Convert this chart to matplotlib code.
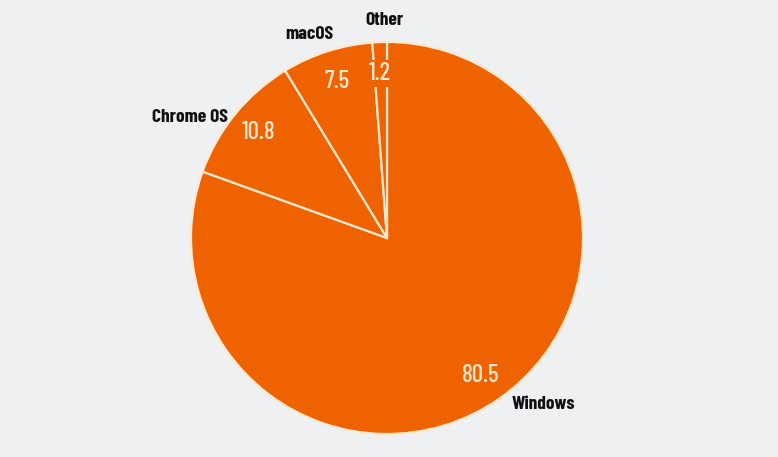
import numpy as np
import matplotlib.pyplot as plt

labels = ['Windows', 'Chrome OS', 'macOS', 'Other']
shares = [80.5, 10.8, 7.5, 1.2]
value_text = ['80.5', '10.8', '7.5', '1.2']

bg = '#eff0f2'
orange = '#ee6200'
cream = '#fde8cf'
fam = ['Barlow Condensed', 'DejaVu Sans']

W, H = 778, 457
cx, cy, r = 387, 238, 196  # pie centre / radius in pixels

fig = plt.figure(figsize=(W / 100, H / 100), dpi=100, facecolor=bg)
ax = fig.add_axes([0, 0, 1, 1])
ax.set_facecolor(bg)

ax.pie(shares, colors=[orange] * len(shares), startangle=90, counterclock=False,
       wedgeprops=dict(edgecolor=cream, linewidth=1.6))
ax.set_xlim(-cx / r, (W - cx) / r)
ax.set_ylim(-(H - cy) / r, cy / r)
ax.axis('off')

# label / value positions (fraction of radius)
lab_pos = [(0.796, -0.847), (-1.005, 0.617), (-0.398, 1.036), (-0.015, 1.112)]
val_pos = [(0.480, -0.699), (-0.653, 0.536), (-0.255, 0.796), (-0.036, 0.837)]

for name, (x, y) in zip(labels, lab_pos):
    ax.text(x, y, name, ha='center', va='center', fontsize=14,
            fontweight=700, color='#111111', family=fam)
for t, (x, y) in zip(value_text, val_pos):
    box = None
    if t == '1.2':
        box = dict(facecolor=orange, edgecolor='none', pad=1.5)
    ax.text(x, y, t, ha='center', va='center', fontsize=18, fontweight=500,
            color=cream, family=fam, bbox=box)

fig.savefig('out.png', dpi=100, facecolor=bg)
